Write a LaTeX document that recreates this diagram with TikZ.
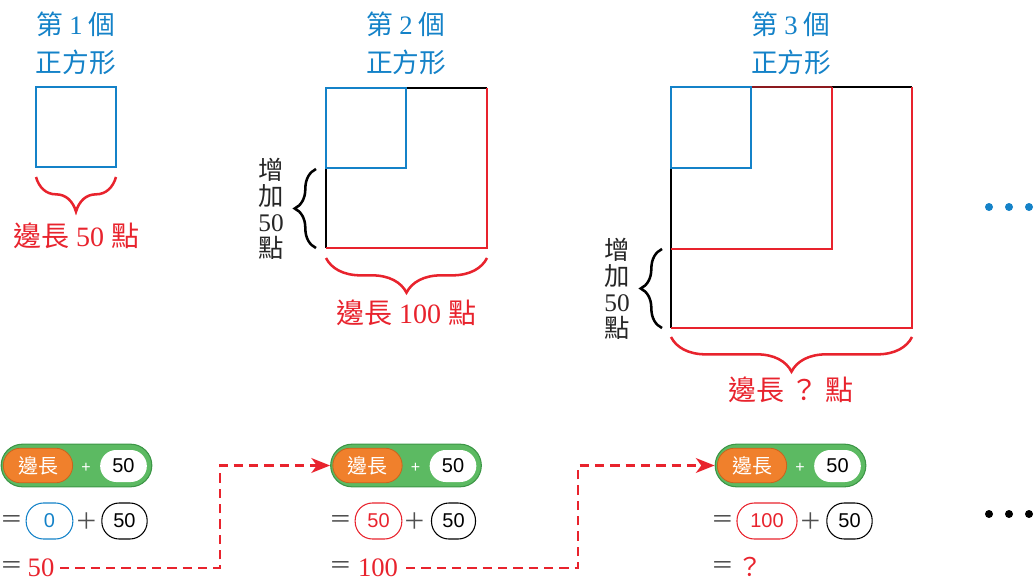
\documentclass[tikz,border=0pt]{standalone}
\usepackage{fontspec}
\setmainfont{Liberation Serif}
\newfontfamily\cjk{Noto Sans CJK TC}
\newfontfamily\sansf{Liberation Sans}
\usetikzlibrary{decorations.pathreplacing,arrows.meta}
\definecolor{myblue}{RGB}{20,130,200}
\definecolor{myred}{RGB}{232,35,45}
\definecolor{mydred}{RGB}{140,25,30}
\definecolor{mygreen}{RGB}{92,186,98}
\definecolor{mygreenD}{RGB}{60,150,70}
\definecolor{myorange}{RGB}{240,128,44}
\definecolor{myorangeD}{RGB}{200,100,30}
\definecolor{mygray}{RGB}{80,80,80}
\begin{document}
\begin{tikzpicture}[x=0.75pt,y=-0.75pt,
 sq/.style={line width=1.6pt},
 bbrace/.style={decorate,decoration={brace,amplitude=26pt},line width=1.9pt,myred},
 lbrace/.style={decorate,decoration={brace,amplitude=16pt},line width=1.9pt,black},
 title/.style={text=myblue,font=\fontsize{20}{22}\selectfont,inner sep=0pt},
 lbl/.style={text=myred,font=\fontsize{21}{24}\selectfont,inner sep=0pt},
 vlbl/.style={align=center,font=\fontsize{19}{19.5}\selectfont,inner sep=0pt,text=black!85},
 gpill/.style={draw=mygreenD,fill=mygreen,rounded corners=16pt,minimum width=113pt,minimum height=32pt,line width=0.8pt,inner sep=0pt},
 opill/.style={draw=myorangeD,fill=myorange,text=white,rounded corners=13pt,minimum width=52pt,minimum height=26pt,font=\cjk\fontsize{15}{18}\selectfont,inner sep=0pt,line width=0.6pt},
 wpill/.style={fill=white,rounded corners=12pt,minimum width=35pt,minimum height=24pt,font=\sansf\fontsize{15}{18}\selectfont,inner sep=0pt},
 npill/.style={draw=#1,text=#1,rounded corners=13pt,minimum height=27pt,font=\sansf\fontsize{15}{18}\selectfont,inner sep=0pt,line width=0.8pt},
 plus/.style={text=white,font=\sansf\fontsize{12}{14}\selectfont,inner sep=0pt},
 eq/.style={text=mygray,font=\cjk\fontsize{17}{20}\selectfont,inner sep=0pt},
 res/.style={text=myred,font=\fontsize{20}{22}\selectfont,inner sep=0pt,anchor=base},
 dline/.style={myred,line width=2.2pt,dash pattern=on 7pt off 4.5pt},
 dot/.style={inner sep=0pt,minimum size=6pt,circle,fill=#1}]
\useasboundingbox (0,0) rectangle (1034,581);

% titles
\node[title] (t1a) at (76,24) {\cjk 第\ {\rmfamily 1}\ 個};
\node[title] (t1b) at (76,62) {\cjk 正方形};
\node[title] (t2a) at (406,24) {\cjk 第\ {\rmfamily 2}\ 個};
\node[title] (t2b) at (406,62) {\cjk 正方形};
\node[title] (t3a) at (791,24) {\cjk 第\ {\rmfamily 3}\ 個};
\node[title] (t3b) at (791,62) {\cjk 正方形};

% square 1
\draw[sq,myblue] (36,87) rectangle (116,167);
\draw[bbrace] (116,177) -- (36,177);
\node[lbl] (l1) at (76,236) {{\cjk 邊長}\ 50\ {\cjk 點}};

% square 2
\draw[sq,black] (406,88) -- (487,88);
\draw[sq,black] (326,168) -- (326,248);
\draw[sq,myred] (487,88) -- (487,248) -- (326,248);
\draw[sq,myblue] (326,88) rectangle (406,168);
\draw[bbrace] (487,258) -- (326,258);
\node[lbl] (l2) at (406,313) {{\cjk 邊長}\ 100\ {\cjk 點}};
\draw[lbrace] (316,248) -- (316,169);
\node[vlbl] (v2) at (271,209) {{\cjk 增}\\{\cjk 加}\\50\\{\cjk 點}};

% square 3
\draw[sq,black] (832,87) -- (912,87);
\draw[sq,black] (671,168) -- (671,328);
\draw[sq,myred] (912,87) -- (912,328) -- (671,328);
\draw[sq,myred] (832,87) -- (832,249) -- (671,249);
\draw[sq,mydred] (751,87) -- (832,87);
\draw[sq,myblue] (671,87) rectangle (751,168);
\draw[bbrace] (912,337) -- (671,337);
\node[lbl] (l3) at (791,390) {\cjk 邊長\ ？\ 點};
\draw[lbrace] (662,328) -- (662,249);
\node[vlbl] (v3) at (617,289) {{\cjk 增}\\{\cjk 加}\\50\\{\cjk 點}};

% dots
\node[dot=myblue] (d1) at (989,207) {};
\node[dot=myblue] (d2) at (1009,207) {};
\node[dot=myblue] (d3) at (1029,207) {};
\node[dot=black] (e1) at (989,514) {};
\node[dot=black] (e2) at (1009,514) {};
\node[dot=black] (e3) at (1029,514) {};

% block 1
\node[gpill] (g1) at (76.5,465.5) {};
\node[opill] (o1) at (38,465.5) {邊長};
\node[plus] (p1) at (86,468) {+};
\node[wpill] (w1) at (123.5,466) {50};
\node[eq] (q1a) at (12,521) {＝};
\node[npill=myblue,minimum width=35pt] (a1) at (49.5,521) {0};
\node[eq] (s1) at (87,521) {＋};
\node[npill=black,minimum width=34pt] (b1) at (124.5,521) {50};
\node[eq] (q1b) at (12,567) {＝};
\node[res] (r1) at (41,576) {50};

% block 2
\node[gpill] (g2) at (406,465.5) {};
\node[opill] (o2) at (367.5,465.5) {邊長};
\node[plus] (p2) at (415.5,468) {+};
\node[wpill] (w2) at (453,466) {50};
\node[eq] (q2a) at (341,521) {＝};
\node[npill=myred,minimum width=35pt] (a2) at (378.5,521) {50};
\node[eq] (s2) at (415,521) {＋};
\node[npill=black,minimum width=33pt] (b2) at (453.5,521) {50};
\node[eq] (q2b) at (341,567) {＝};
\node[res] (r2) at (378,576) {100};

% block 3
\node[gpill] (g3) at (790.5,465.5) {};
\node[opill] (o3) at (752,465.5) {邊長};
\node[plus] (p3) at (800,468) {+};
\node[wpill] (w3) at (837.5,466) {50};
\node[eq] (q3a) at (723,521) {＝};
\node[npill=myred,minimum width=45pt] (a3) at (767,521) {100};
\node[eq] (s3) at (811,521) {＋};
\node[npill=black,minimum width=34pt] (b3) at (849.5,521) {50};
\node[eq] (q3b) at (723,567) {＝};
\node[res,anchor=center,font=\cjk\fontsize{19}{22}\selectfont] (r3) at (750,567) {？};

% connectors
\coordinate (k1) at (220,568);
\coordinate (k2) at (578,568);
\draw[dline,-{Stealth[length=14pt,width=11pt,inset=4pt]}] (60,568) -- (k1) |- (g2.west);
\draw[dline,-{Stealth[length=14pt,width=11pt,inset=4pt]}] (406,568) -- (k2) |- (g3.west);
\end{tikzpicture}
\end{document}
